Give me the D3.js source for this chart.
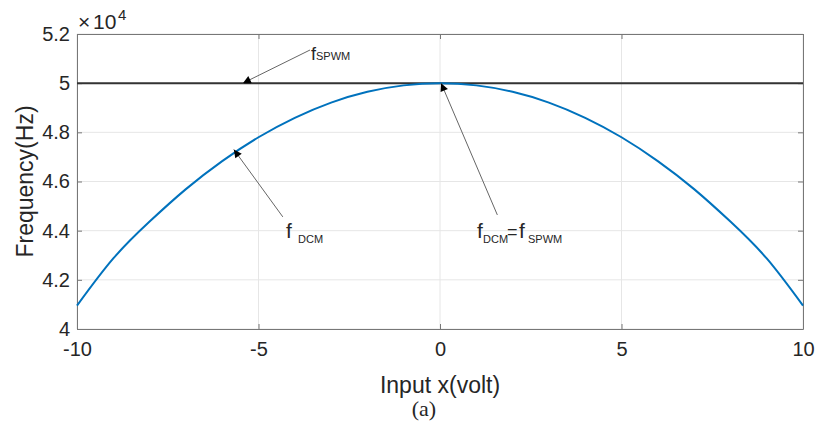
<!DOCTYPE html>
<html>
<head>
<meta charset="utf-8">
<script src="https://cdn.jsdelivr.net/npm/d3@7"></script>
<style>
  body { margin: 0; background: #fff; }
  text { font-family: Arial, "Liberation Sans", sans-serif; fill: #262626; }
</style>
</head>
<body>
<div id="chart"></div>
<script>
var width = 817;
var height = 425;

// input voltage samples (volt)
var inputX = [-10, -9, -8, -7, -6, -5, -4, -3, -2, -1, 0, 1, 2, 3, 4, 5, 6, 7, 8, 9, 10];
// f_DCM (Hz)
var fDCM = [40950, 42870, 44370, 45690, 46830, 47800, 48590, 49210, 49650, 49910, 50000,
            49910, 49650, 49210, 48590, 47800, 46830, 45690, 44370, 42870, 40950];
// f_SPWM constant line (Hz)
var spwmX = [-10, 10];
var fSPWM = [50000, 50000];

var xTicks = [-10, -5, 0, 5, 10];
var xTickLabels = ["-10", "-5", "0", "5", "10"];
var yTicks = [40000, 42000, 44000, 46000, 48000, 50000, 52000];
var yTickLabels = ["4", "4.2", "4.4", "4.6", "4.8", "5", "5.2"];

var margin = {left: 77, right: 14, top: 34, bottom: 96};

var x = d3.scaleLinear().domain([-10, 10]).range([margin.left, width - margin.right]);
var y = d3.scaleLinear().domain([40000, 52000]).range([height - margin.bottom, margin.top]);

var svg = d3.select("#chart")
  .append("svg")
  .attr("width", width)
  .attr("height", height);

var defs = svg.append("defs");
defs.append("marker")
    .attr("id", "head")
    .attr("viewBox", "0 0 10 10")
    .attr("refX", 10)
    .attr("refY", 5)
    .attr("markerWidth", 10)
    .attr("markerHeight", 8)
    .attr("markerUnits", "userSpaceOnUse")
    .attr("orient", "auto")
  .append("path")
    .attr("d", "M0,0L10,5L0,10Z")
    .attr("fill", "#000");

// grid
svg.append("g")
  .selectAll("line.gx")
  .data(xTicks)
  .enter().append("line")
    .attr("x1", d => x(d)).attr("x2", d => x(d))
    .attr("y1", y(40000)).attr("y2", y(52000))
    .attr("stroke", "#e6e6e6");

svg.append("g")
  .selectAll("line.gy")
  .data(yTicks)
  .enter().append("line")
    .attr("x1", x(-10)).attr("x2", x(10))
    .attr("y1", d => y(d)).attr("y2", d => y(d))
    .attr("stroke", "#e6e6e6");

// axes, ticks inward (box on)
var fmtX = d => xTickLabels[xTicks.indexOf(d)];
var fmtY = d => yTickLabels[yTicks.indexOf(d)];

var xAxis = svg.append("g")
  .attr("transform", "translate(0," + y(40000) + ")")
  .call(d3.axisBottom(x).tickValues(xTicks).tickFormat(fmtX).tickSizeInner(-5).tickSizeOuter(0).tickPadding(13));
var xTop = svg.append("g")
  .attr("transform", "translate(0," + y(52000) + ")")
  .call(d3.axisTop(x).tickValues(xTicks).tickSizeInner(-5).tickSizeOuter(0).tickFormat(""));
var yAxis = svg.append("g")
  .attr("transform", "translate(" + x(-10) + ",0)")
  .call(d3.axisLeft(y).tickValues(yTicks).tickFormat(fmtY).tickSizeInner(-5).tickSizeOuter(0).tickPadding(7));
var yRight = svg.append("g")
  .attr("transform", "translate(" + x(10) + ",0)")
  .call(d3.axisRight(y).tickValues(yTicks).tickSizeInner(-5).tickSizeOuter(0).tickFormat(""));

[xAxis, xTop, yAxis, yRight].forEach(g => {
  g.select(".domain").attr("stroke", "#777");
  g.selectAll(".tick line").attr("stroke", "#777");
  g.selectAll("text")
    .attr("fill", "#262626")
    .style("font-family", "Arial, 'Liberation Sans', sans-serif")
    .style("font-size", "20px");
});
xAxis.selectAll("text").attr("dy", "0.71em");

// lines
var line = d3.line()
  .x(d => x(d[0]))
  .y(d => y(d[1]))
  .curve(d3.curveNatural);

svg.append("path")
  .datum(spwmX.map((v, i) => [v, fSPWM[i]]))
  .attr("d", line)
  .attr("fill", "none")
  .attr("stroke", "#333")
  .attr("stroke-width", 2);

svg.append("path")
  .datum(inputX.map((v, i) => [v, fDCM[i]]))
  .attr("d", line)
  .attr("fill", "none")
  .attr("stroke", "#0072BD")
  .attr("stroke-width", 2);

// annotation arrows, tail -> head in data units
var arrows = [
  {from: [-3.58, 51350], to: [-5.43, 50000]},
  {from: [-4.33, 44560], to: [-5.68, 47300]},
  {from: [1.58, 44640], to: [0.03, 50000]}
];

svg.append("g")
  .selectAll("line")
  .data(arrows)
  .enter().append("line")
    .attr("x1", d => x(d.from[0])).attr("y1", d => y(d.from[1]))
    .attr("x2", d => x(d.to[0])).attr("y2", d => y(d.to[1]))
    .attr("stroke", "#666")
    .attr("stroke-width", 1)
    .attr("marker-end", "url(#head)");

// annotation texts
var t1 = svg.append("text").attr("x", 311).attr("y", 60).style("font-size", "18px");
t1.append("tspan").text("f");
t1.append("tspan").attr("dy", 0).style("font-size", "11px").text("SPWM");

var t2 = svg.append("text").attr("x", 286).attr("y", 238).style("font-size", "21px");
t2.append("tspan").text("f");
t2.append("tspan").attr("x", 298).attr("y", 243).style("font-size", "11px").text("DCM");

var t3 = svg.append("text").attr("x", 477).attr("y", 238).style("font-size", "21px");
t3.append("tspan").text("f");
t3.append("tspan").attr("x", 483).attr("y", 243).style("font-size", "11px").text("DCM");
t3.append("tspan").attr("x", 507).attr("y", 238).style("font-size", "18px").text("=");
t3.append("tspan").attr("x", 519).attr("y", 238).style("font-size", "21px").text("f");
t3.append("tspan").attr("x", 528).attr("y", 243).style("font-size", "11px").text("SPWM");

// exponent label
var ex = svg.append("text").attr("x", 78).attr("y", 29).style("font-size", "21px");
ex.append("tspan").text("\u00d7");
ex.append("tspan").attr("x", 93).text("10");
ex.append("tspan").attr("x", 118).attr("y", 20).style("font-size", "15px").text("4");

// axis labels
svg.append("text")
  .attr("x", x(0))
  .attr("y", 393)
  .attr("text-anchor", "middle")
  .style("font-size", "23px")
  .text("Input x(volt)");

svg.append("text")
  .attr("transform", "translate(33," + y(46000) + ") rotate(-90)")
  .attr("text-anchor", "middle")
  .style("font-size", "23px")
  .text("Frequency(Hz)");

svg.append("text")
  .attr("x", 424)
  .attr("y", 416)
  .attr("text-anchor", "middle")
  .style("font-family", "'Liberation Serif', 'Times New Roman', serif")
  .style("font-size", "22px")
  .attr("fill", "#000")
  .text("(a)");
</script>
</body>
</html>
